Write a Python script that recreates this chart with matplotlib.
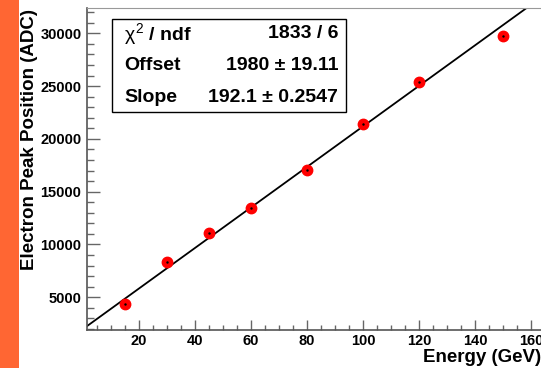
import numpy as np
import matplotlib
matplotlib.use('Agg')
import matplotlib.pyplot as plt
from matplotlib.patches import Rectangle
from matplotlib.ticker import MultipleLocator

plt.rcParams['font.family'] = ['Liberation Sans', 'DejaVu Sans']
plt.rcParams['mathtext.fontset'] = 'custom'
plt.rcParams['mathtext.rm'] = 'Liberation Sans'
plt.rcParams['mathtext.it'] = 'Liberation Sans'

# data
energy = [15, 30, 45, 60, 80, 100, 120, 150]
peak_pos = [4390, 8310, 11060, 13430, 17030, 21440, 25390, 29750]

# fit result
offset = 1980
slope = 192.1
stat_names = [r'$\chi^2$ / ndf', 'Offset', 'Slope']
stat_values = ['1833 / 6', '1980 \u00b1 19.11', '192.1 \u00b1 0.2547']

W, H = 541, 368
fig = plt.figure(figsize=(W / 100, H / 100), dpi=100)


def fx(x):
    return x / W


def fy(y):
    return 1 - y / H


# orange strip on the left
fig.patches.append(Rectangle((0, 0), fx(19), 1, transform=fig.transFigure,
                             facecolor='#ff6633', edgecolor='none'))

ax = fig.add_axes([fx(87), fy(330), fx(541) - fx(87), fy(8) - fy(330)])
ax.set_xlim(1.5, 163.5)
ax.set_ylim(1900, 32400)

fit_x = np.array([1.5, 163.5])
ax.plot(fit_x, offset + slope * fit_x, color='black', lw=1.3, zorder=2)
ax.plot(energy, peak_pos, 'o', color='red', markersize=7.5, zorder=3)
ax.plot(energy, peak_pos, '.', color='black', markersize=1.5, zorder=4)

ax.xaxis.set_major_locator(MultipleLocator(20))
ax.xaxis.set_minor_locator(MultipleLocator(5))
ax.yaxis.set_major_locator(MultipleLocator(5000))
ax.yaxis.set_minor_locator(MultipleLocator(1000))
ax.tick_params(axis='both', which='both', direction='in', colors='#666666',
               labelcolor='black', labelsize=10.5, width=1)
ax.tick_params(axis='x', which='major', length=7.2, pad=3)
ax.tick_params(axis='x', which='minor', length=3.6)
ax.tick_params(axis='y', which='major', length=9.4, pad=4)
ax.tick_params(axis='y', which='minor', length=5)
for lab in ax.get_xticklabels() + ax.get_yticklabels():
    lab.set_fontweight('bold')

for s in ['left', 'bottom']:
    ax.spines[s].set_color('#555555')
    ax.spines[s].set_linewidth(1.2)
ax.spines['top'].set_color('#999999')
ax.spines['right'].set_visible(False)

fig.text(fx(30), fy(140), 'Electron Peak Position (ADC)', rotation=90,
         ha='center', va='center', fontsize=13.5, fontweight='bold')
fig.text(fx(541), fy(358), 'Energy (GeV)', ha='right', va='center',
         fontsize=13.5, fontweight='bold')

# stats box
fig.patches.append(Rectangle((fx(112), fy(112)), fx(346) - fx(112), fy(19) - fy(112),
                             transform=fig.transFigure, facecolor='white',
                             edgecolor='black', lw=1, zorder=5))
rows_y = [34, 66, 97]
for name, val, ry in zip(stat_names, stat_values, rows_y):
    fig.text(fx(124), fy(ry), name, ha='left', va='center', fontsize=14,
             fontweight='bold', zorder=6)
    fig.text(fx(338), fy(ry), val, ha='right', va='center', fontsize=14,
             fontweight='bold', zorder=6)

fig.savefig('out.png', dpi=100)
